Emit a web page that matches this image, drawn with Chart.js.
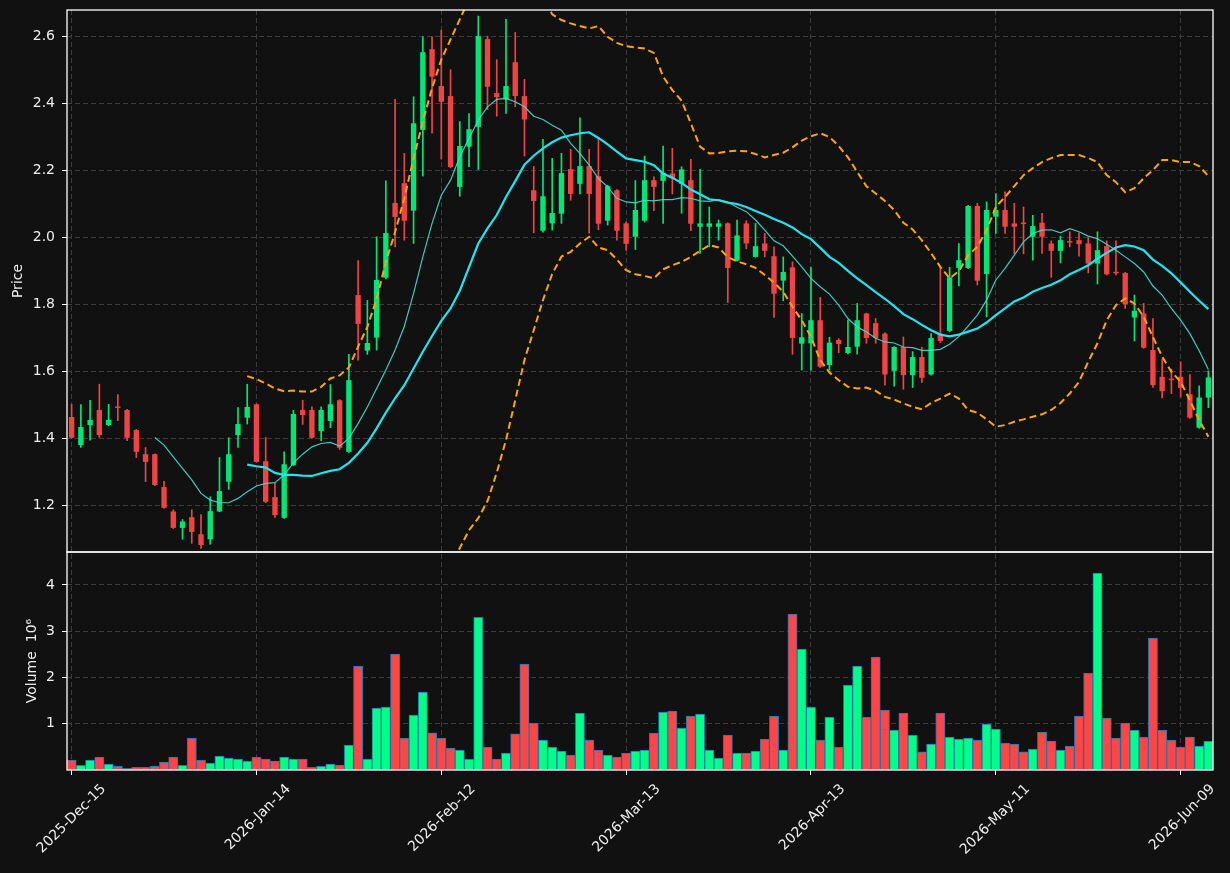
<!DOCTYPE html>
<html>
<head>
<meta charset="utf-8">
<script src="https://cdn.jsdelivr.net/npm/chart.js@4.4.1/dist/chart.umd.min.js"></script>
<style>
    html, body { margin: 0; padding: 0; background: #111111; }
    #wrap { width: 1230px; height: 873px; }
</style>
</head>
<body>
<div id="wrap"><canvas id="grafico" width="1230" height="873"></canvas></div>
<script>
// Cotações diárias (preço)
const abertura = [
    1.463, 1.379, 1.439, 1.484, 1.439, 1.492, 1.484, 1.424, 1.352, 1.352,
    1.254, 1.181, 1.132, 1.164, 1.113, 1.098, 1.181, 1.270, 1.409, 1.461,
    1.501, 1.331, 1.224, 1.162, 1.319, 1.484, 1.484, 1.421, 1.451, 1.513,
    1.359, 1.827, 1.661, 1.700, 1.879, 2.102, 2.161, 2.079, 2.320, 2.561,
    2.451, 2.421, 2.150, 2.270, 2.329, 2.591, 2.430, 2.411, 2.522, 2.421,
    2.140, 2.019, 2.041, 2.070, 2.203, 2.159, 2.212, 2.182, 2.049, 2.140,
    2.041, 2.001, 2.049, 2.170, 2.168, 2.190, 2.159, 2.170, 2.031, 2.031,
    2.031, 2.041, 1.930, 2.041, 1.941, 1.981, 1.943, 1.870, 1.910, 1.682,
    1.683, 1.752, 1.618, 1.693, 1.654, 1.673, 1.772, 1.743, 1.712, 1.601,
    1.672, 1.588, 1.642, 1.590, 1.712, 1.720, 1.908, 1.908, 2.093, 1.890,
    2.061, 2.081, 2.041, 2.042, 2.001, 2.043, 1.981, 1.959, 1.986, 1.991,
    1.981, 1.921, 1.973, 1.894, 1.893, 1.760, 1.772, 1.663, 1.583, 1.575,
    1.583, 1.531, 1.431, 1.521
];
const maxima = [
    1.501, 1.500, 1.513, 1.561, 1.501, 1.530, 1.486, 1.426, 1.372, 1.353,
    1.271, 1.186, 1.157, 1.186, 1.172, 1.225, 1.342, 1.401, 1.491, 1.561,
    1.502, 1.402, 1.265, 1.359, 1.483, 1.513, 1.493, 1.493, 1.560, 1.515,
    1.650, 1.930, 1.811, 2.001, 2.168, 2.411, 2.250, 2.419, 2.598, 2.598,
    2.618, 2.500, 2.345, 2.369, 2.660, 2.600, 2.530, 2.650, 2.611, 2.471,
    2.211, 2.292, 2.235, 2.250, 2.262, 2.356, 2.262, 2.292, 2.155, 2.142,
    2.045, 2.169, 2.242, 2.180, 2.272, 2.265, 2.210, 2.232, 2.202, 2.090,
    2.051, 2.043, 2.051, 2.049, 2.041, 2.011, 1.971, 1.941, 1.926, 1.772,
    1.910, 1.820, 1.701, 1.697, 1.752, 1.802, 1.773, 1.757, 1.714, 1.673,
    1.702, 1.658, 1.671, 1.712, 1.910, 1.910, 1.981, 2.095, 2.101, 2.105,
    2.130, 2.135, 2.101, 2.090, 2.065, 2.071, 1.989, 2.003, 2.016, 2.013,
    1.999, 2.016, 1.989, 1.989, 1.895, 1.827, 1.802, 1.757, 1.636, 1.606,
    1.628, 1.590, 1.556, 1.601
];
const minima = [
    1.400, 1.372, 1.394, 1.402, 1.437, 1.452, 1.392, 1.342, 1.270, 1.258,
    1.190, 1.130, 1.098, 1.086, 1.071, 1.083, 1.180, 1.247, 1.372, 1.442,
    1.328, 1.207, 1.163, 1.160, 1.318, 1.441, 1.400, 1.392, 1.431, 1.366,
    1.357, 1.633, 1.650, 1.663, 1.875, 1.971, 1.991, 1.981, 2.182, 2.310,
    2.233, 2.207, 2.122, 2.210, 2.202, 2.381, 2.361, 2.369, 2.389, 2.242,
    2.013, 2.015, 2.021, 2.041, 2.110, 2.129, 2.012, 2.022, 2.036, 1.991,
    1.961, 1.963, 2.045, 2.079, 2.041, 2.129, 2.071, 2.019, 1.951, 1.971,
    1.991, 1.805, 1.928, 1.965, 1.940, 1.941, 1.760, 1.810, 1.650, 1.603,
    1.603, 1.611, 1.603, 1.655, 1.651, 1.651, 1.683, 1.683, 1.558, 1.555,
    1.546, 1.551, 1.566, 1.588, 1.685, 1.717, 1.854, 1.906, 1.857, 1.762,
    2.011, 2.011, 1.951, 1.950, 1.931, 1.951, 1.880, 1.923, 1.971, 1.943,
    1.893, 1.860, 1.887, 1.887, 1.787, 1.690, 1.668, 1.551, 1.520, 1.533,
    1.523, 1.459, 1.429, 1.491
];
const fechamento = [
    1.401, 1.433, 1.454, 1.409, 1.454, 1.490, 1.401, 1.359, 1.329, 1.260,
    1.192, 1.132, 1.151, 1.120, 1.081, 1.182, 1.242, 1.352, 1.442, 1.493,
    1.329, 1.210, 1.170, 1.322, 1.472, 1.469, 1.401, 1.484, 1.501, 1.371,
    1.573, 1.741, 1.684, 1.872, 2.012, 2.060, 2.049, 2.340, 2.552, 2.479,
    2.404, 2.209, 2.272, 2.322, 2.600, 2.449, 2.418, 2.451, 2.421, 2.351,
    2.108, 2.122, 2.072, 2.191, 2.129, 2.212, 2.129, 2.040, 2.152, 2.019,
    1.980, 2.081, 2.170, 2.150, 2.192, 2.175, 2.202, 2.040, 2.041, 2.041,
    2.041, 1.908, 2.005, 1.981, 1.973, 1.959, 1.831, 1.896, 1.699, 1.701,
    1.752, 1.613, 1.685, 1.681, 1.672, 1.752, 1.699, 1.699, 1.590, 1.672,
    1.588, 1.642, 1.580, 1.699, 1.690, 1.880, 1.931, 2.093, 1.870, 2.081,
    2.081, 2.031, 2.031, 2.039, 2.033, 2.001, 1.959, 1.991, 1.984, 1.979,
    1.921, 1.961, 1.889, 1.892, 1.800, 1.780, 1.670, 1.558, 1.540, 1.573,
    1.550, 1.461, 1.521, 1.581
];

// Volume negociado (milhões)
const volume = [
    0.216, 0.100, 0.216, 0.280, 0.130, 0.078, 0.035, 0.056, 0.056, 0.078,
    0.170, 0.280, 0.100, 0.690, 0.216, 0.150, 0.300, 0.260, 0.237, 0.194,
    0.280, 0.237, 0.194, 0.280, 0.237, 0.237, 0.056, 0.078, 0.130, 0.108,
    0.540, 2.245, 0.237, 1.338, 1.360, 2.504, 0.690, 1.187, 1.683, 0.805,
    0.690, 0.475, 0.430, 0.237, 3.300, 0.496, 0.237, 0.367, 0.784, 2.288,
    1.014, 0.647, 0.496, 0.410, 0.324, 1.230, 0.647, 0.430, 0.324, 0.280,
    0.367, 0.410, 0.430, 0.800, 1.250, 1.273, 0.906, 1.166, 1.209, 0.430,
    0.260, 0.755, 0.367, 0.367, 0.410, 0.669, 1.166, 0.430, 3.367, 2.610,
    1.360, 0.647, 1.144, 0.496, 1.835, 2.245, 1.144, 2.440, 1.295, 0.863,
    1.230, 0.755, 0.390, 0.560, 1.230, 0.710, 0.669, 0.690, 0.647, 0.990,
    0.885, 0.583, 0.560, 0.390, 0.453, 0.820, 0.626, 0.430, 0.518, 1.166,
    2.094, 4.252, 1.122, 0.690, 1.014, 0.863, 0.710, 2.849, 0.863, 0.647,
    0.496, 0.710, 0.518, 0.626
];

// Médias móveis
const media10 = Array(9).fill(null).concat([
    1.402, 1.379, 1.344, 1.310, 1.275, 1.235, 1.215, 1.207, 1.207, 1.220,
    1.240, 1.257, 1.265, 1.267, 1.290, 1.326, 1.352, 1.374, 1.384, 1.387,
    1.376, 1.399, 1.444, 1.493, 1.548, 1.603, 1.663, 1.734, 1.832, 1.941,
    2.041, 2.125, 2.170, 2.240, 2.295, 2.349, 2.389, 2.411, 2.414, 2.404,
    2.389, 2.361, 2.351, 2.334, 2.319, 2.280, 2.250, 2.215, 2.175, 2.150,
    2.116, 2.105, 2.102, 2.110, 2.108, 2.112, 2.112, 2.118, 2.116, 2.108,
    2.107, 2.112, 2.105, 2.089, 2.076, 2.051, 2.021, 1.989, 1.974, 1.943,
    1.911, 1.877, 1.852, 1.830, 1.797, 1.757, 1.732, 1.717, 1.698, 1.687,
    1.684, 1.672, 1.670, 1.662, 1.662, 1.665, 1.680, 1.703, 1.734, 1.767,
    1.812, 1.872, 1.907, 1.946, 1.986, 2.011, 2.021, 2.022, 2.013, 2.025,
    2.016, 2.003, 1.995, 1.979, 1.961, 1.941, 1.921, 1.896, 1.854, 1.827,
    1.787, 1.752, 1.712, 1.661, 1.605
]);
const media20 = Array(19).fill(null).concat([
    1.321, 1.316, 1.312, 1.296, 1.290, 1.290, 1.288, 1.287, 1.295, 1.302,
    1.307, 1.326, 1.354, 1.386, 1.429, 1.476, 1.519, 1.558, 1.608, 1.658,
    1.705, 1.750, 1.787, 1.840, 1.910, 1.981, 2.026, 2.066, 2.120, 2.167,
    2.216, 2.243, 2.265, 2.283, 2.297, 2.304, 2.310, 2.313, 2.296, 2.277,
    2.255, 2.235, 2.230, 2.225, 2.215, 2.190, 2.177, 2.162, 2.142, 2.128,
    2.113, 2.110, 2.103, 2.099, 2.090, 2.078, 2.067, 2.054, 2.043, 2.029,
    2.009, 1.994, 1.968, 1.941, 1.923, 1.899, 1.877, 1.857, 1.836, 1.816,
    1.794, 1.770, 1.755, 1.738, 1.722, 1.709, 1.704, 1.709, 1.718, 1.727,
    1.745, 1.767, 1.787, 1.808, 1.820, 1.837, 1.848, 1.858, 1.871, 1.889,
    1.902, 1.916, 1.936, 1.953, 1.969, 1.976, 1.972, 1.961, 1.933, 1.914,
    1.892, 1.865, 1.837, 1.810, 1.785
]);

// Bandas de Bollinger
const bandaSuperior = Array(19).fill(null).concat([
    1.585, 1.576, 1.563, 1.548, 1.540, 1.542, 1.539, 1.539, 1.553, 1.578,
    1.587, 1.611, 1.673, 1.732, 1.815, 1.925, 2.015, 2.116, 2.235, 2.345,
    2.445, 2.530, 2.590, 2.650, 2.710, 2.790, 2.830, 2.830, 2.840, 2.820,
    2.800, 2.765, 2.720, 2.665, 2.648, 2.638, 2.630, 2.623, 2.630, 2.598,
    2.580, 2.570, 2.566, 2.563, 2.550, 2.479, 2.439, 2.407, 2.340, 2.270,
    2.250, 2.251, 2.256, 2.258, 2.256, 2.248, 2.238, 2.245, 2.252, 2.268,
    2.288, 2.301, 2.310, 2.299, 2.272, 2.238, 2.195, 2.152, 2.130, 2.108,
    2.081, 2.043, 2.023, 1.990, 1.952, 1.911, 1.877, 1.898, 1.946, 1.971,
    2.021, 2.090, 2.120, 2.152, 2.185, 2.206, 2.224, 2.236, 2.245, 2.245,
    2.245, 2.236, 2.224, 2.185, 2.164, 2.134, 2.146, 2.176, 2.200, 2.230,
    2.230, 2.224, 2.224, 2.212, 2.182
]);
const bandaInferior = Array(19).fill(null).concat([
    1.057, 1.056, 1.058, 1.044, 1.040, 1.038, 1.035, 1.035, 1.037, 1.026,
    1.027, 1.041, 1.035, 1.040, 1.043, 1.027, 1.023, 1.000, 0.981, 0.971,
    0.965, 0.970, 1.010, 1.072, 1.125, 1.161, 1.212, 1.297, 1.394, 1.513,
    1.633, 1.722, 1.812, 1.890, 1.942, 1.956, 1.981, 2.001, 1.969, 1.961,
    1.933, 1.901, 1.889, 1.884, 1.877, 1.904, 1.916, 1.926, 1.941, 1.959,
    1.976, 1.969, 1.940, 1.928, 1.919, 1.908, 1.887, 1.864, 1.837, 1.792,
    1.752, 1.702, 1.633, 1.596, 1.573, 1.553, 1.548, 1.551, 1.541, 1.523,
    1.515, 1.504, 1.493, 1.486, 1.505, 1.518, 1.533, 1.518, 1.484, 1.476,
    1.456, 1.434, 1.439, 1.449, 1.456, 1.464, 1.471, 1.484, 1.505, 1.533,
    1.568, 1.628, 1.683, 1.752, 1.797, 1.817, 1.802, 1.762, 1.702, 1.643,
    1.598, 1.568, 1.513, 1.454, 1.404
]);

// Eixos
const ticksPreco = [1.2, 1.4, 1.6, 1.8, 2.0, 2.2, 2.4, 2.6];
const ticksVolume = [1, 2, 3, 4];
const rotulosData = ['2025-Dec-15', '2026-Jan-14', '2026-Feb-12', '2026-Mar-13', '2026-Apr-13', '2026-May-11', '2026-Jun-09'];
const feriados = ['2025-12-25', '2026-01-01', '2026-01-19', '2026-02-16', '2026-04-03', '2026-05-25'];

// Dias de pregão a partir da data inicial
function gerarPregoes(inicio, total) {
    const nomesMes = ['Jan', 'Feb', 'Mar', 'Apr', 'May', 'Jun', 'Jul', 'Aug', 'Sep', 'Oct', 'Nov', 'Dec'];
    const dias = [];
    const d = new Date(inicio + 'T12:00:00Z');
    while (dias.length < total) {
        const iso = d.toISOString().slice(0, 10);
        const semana = d.getUTCDay();
        if (semana !== 0 && semana !== 6 && !feriados.includes(iso)) {
            dias.push(d.getUTCFullYear() + '-' + nomesMes[d.getUTCMonth()] + '-' + String(d.getUTCDate()).padStart(2, '0'));
        }
        d.setUTCDate(d.getUTCDate() + 1);
    }
    return dias;
}
const datas = gerarPregoes('2025-12-15', abertura.length);

// Cores
const corAlta = '#00e676';
const corBaixa = '#ef4444';
const corVolAlta = '#00ff88';
const corVolBaixa = '#ff4646';
const sobe = fechamento.map((c, i) => c >= abertura[i]);
const corCandle = sobe.map(s => (s ? corAlta : corBaixa));
const corVolume = sobe.map(s => (s ? corVolAlta : corVolBaixa));

const fonte = { family: 'DejaVu Sans', size: 14 };
const corTexto = '#eeeeee';
const corGrade = '#3c3c3c';

// Recorta cada série no seu painel e desenha as molduras
const paineis = {
    id: 'paineis',
    beforeDatasetDraw(chart, args) {
        const ds = chart.data.datasets[args.index];
        const escala = chart.scales[ds.yAxisID];
        const area = chart.chartArea;
        const ctx = chart.ctx;
        ctx.save();
        ctx.beginPath();
        ctx.rect(area.left, escala.top, area.right - area.left, escala.bottom - escala.top);
        ctx.clip();
    },
    afterDatasetDraw(chart) {
        chart.ctx.restore();
    },
    afterDraw(chart) {
        const ctx = chart.ctx;
        const area = chart.chartArea;
        ctx.save();
        ctx.strokeStyle = '#ffffff';
        ctx.lineWidth = 1.3;
        ['preco', 'vol'].forEach(id => {
            const s = chart.scales[id];
            ctx.strokeRect(area.left, s.top, area.right - area.left, s.bottom - s.top);
        });
        ctx.restore();
    }
};

function eixoY(ticks, casas, titulo, recuo, peso, min, max) {
    return {
        type: 'linear',
        position: 'left',
        stack: 'painel',
        stackWeight: peso,
        min: min,
        max: max,
        afterBuildTicks: s => { s.ticks = ticks.map(v => ({ value: v })); },
        afterFit: s => { s.width = 67; s.paddingTop = 0; s.paddingBottom = 0; },
        ticks: { color: corTexto, font: fonte, padding: 7, callback: v => v.toFixed(casas) },
        grid: { color: corGrade, lineWidth: 1, tickColor: '#ffffff', tickLength: 5, tickBorderDash: [] },
        border: { display: false, dash: [5, 3] },
        title: { display: true, text: titulo, color: corTexto, font: fonte, padding: { top: recuo, bottom: 0 } }
    };
}

new Chart(document.getElementById('grafico'), {
    type: 'bar',
    data: {
        labels: datas,
        datasets: [
            { type: 'line', data: media10, yAxisID: 'preco', borderColor: 'rgba(64,224,208,0.9)', borderWidth: 1.2, pointRadius: 0, order: 1 },
            { type: 'line', data: media20, yAxisID: 'preco', borderColor: '#1fe5f0', borderWidth: 2.2, pointRadius: 0, order: 1 },
            { type: 'line', data: bandaSuperior, yAxisID: 'preco', borderColor: '#ffa500', borderWidth: 2, borderDash: [7, 4], pointRadius: 0, order: 0 },
            { type: 'line', data: bandaInferior, yAxisID: 'preco', borderColor: '#ffa500', borderWidth: 2, borderDash: [7, 4], pointRadius: 0, order: 0 },
            {
                data: minima.map((l, i) => [l, maxima[i]]), yAxisID: 'preco',
                backgroundColor: corCandle, barThickness: 1, grouped: false, order: 3
            },
            {
                data: abertura.map((o, i) => [o, fechamento[i]]), yAxisID: 'preco',
                backgroundColor: corCandle, categoryPercentage: 1, barPercentage: 0.58, minBarLength: 1.5, grouped: false, order: 2
            },
            {
                data: volume, yAxisID: 'vol',
                backgroundColor: corVolume, borderColor: '#1f77b4', borderWidth: 1, borderSkipped: false,
                categoryPercentage: 1, barPercentage: 1, grouped: false, order: 2
            }
        ]
    },
    options: {
        responsive: false,
        animation: false,
        devicePixelRatio: 1,
        layout: { padding: { left: 0, right: 17, top: 10, bottom: 0 } },
        plugins: { legend: { display: false }, tooltip: { enabled: false } },
        scales: {
            x: {
                type: 'category',
                offset: true,
                afterBuildTicks: s => { s.ticks = s.ticks.filter(t => rotulosData.includes(datas[t.value])); },
                afterFit: s => { s.height = 103; s.paddingLeft = 0; s.paddingRight = 0; },
                ticks: { autoSkip: false, maxRotation: 45, minRotation: 45, color: corTexto, font: fonte, labelOffset: 32, padding: 6 },
                grid: { offset: false, color: corGrade, lineWidth: 1, tickColor: '#ffffff', tickLength: 5, tickBorderDash: [] },
                border: { display: false, dash: [5, 3] }
            },
            // o painel de volume vem primeiro porque a pilha é montada de baixo para cima
            vol: eixoY(ticksVolume, 0, 'Volume  10\u2076', 24, 218, 0, 4.71),
            preco: eixoY(ticksPreco, 1, 'Price', 10, 542, 1.06, 2.678)
        }
    },
    plugins: [paineis]
});
</script>
</body>
</html>
